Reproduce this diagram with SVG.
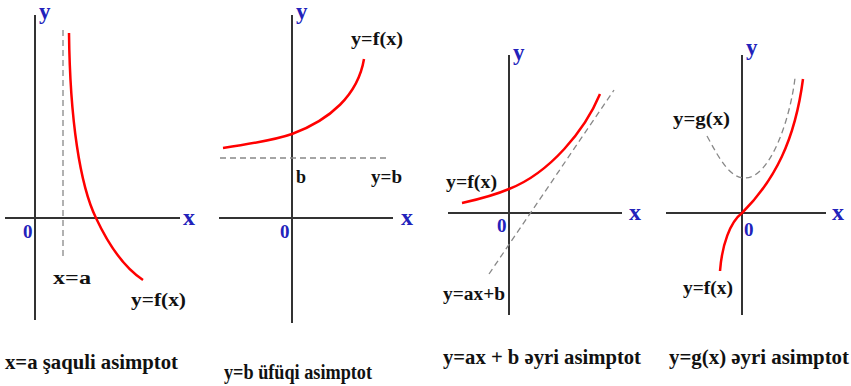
<svg xmlns="http://www.w3.org/2000/svg" width="851" height="386" viewBox="0 0 851 386">
<defs>
<style>
.ax{stroke:#333;stroke-width:2;fill:none}
.cv{stroke:#ff0000;stroke-width:2.5;fill:none}
.ds{stroke:#888;stroke-width:1.3;fill:none;stroke-dasharray:6,4}
</style>
</defs>
<rect width="851" height="386" fill="#fff"/>
<g id="panel1">
<line class="ax" x1="35" y1="15" x2="35" y2="320"/>
<line class="ax" x1="5" y1="218" x2="180" y2="218"/>
<line class="ds" x1="63" y1="30" x2="63" y2="258"/>
<path class="cv" d="M69,33 C70,120 80,185 96,218 C110,248 125,268 143,280"/>
<text x="183" y="225" font-family="Liberation Serif" font-weight="bold" font-size="24" fill="#2222bb">x</text>
<text x="39" y="19" font-family="Liberation Serif" font-weight="bold" font-size="23" fill="#2222bb">y</text>
<text x="23" y="238" font-family="Liberation Serif" font-weight="bold" font-size="19" fill="#2222bb">0</text>
<text x="53" y="284" font-family="Liberation Serif" font-weight="bold" font-size="18" fill="#111" textLength="38" lengthAdjust="spacingAndGlyphs">x=a</text>
<text x="131" y="306" font-family="Liberation Serif" font-weight="bold" font-size="18" fill="#111" textLength="55" lengthAdjust="spacingAndGlyphs">y=f(x)</text>
</g>
<g id="panel2">
<line class="ax" x1="292" y1="15" x2="292" y2="323"/>
<line class="ax" x1="219" y1="218" x2="393" y2="218"/>
<line class="ds" x1="220" y1="158" x2="388" y2="158"/>
<path class="cv" d="M223,148 C250,144 275,140 292,134 C330,120 358,95 364,59"/>
<text x="401" y="225" font-family="Liberation Serif" font-weight="bold" font-size="24" fill="#2222bb">x</text>
<text x="296" y="19" font-family="Liberation Serif" font-weight="bold" font-size="23" fill="#2222bb">y</text>
<text x="280" y="238" font-family="Liberation Serif" font-weight="bold" font-size="19" fill="#2222bb">0</text>
<text x="296" y="183" font-family="Liberation Serif" font-weight="bold" font-size="18" fill="#111">b</text>
<text x="371" y="183" font-family="Liberation Serif" font-weight="bold" font-size="18" fill="#111" textLength="31" lengthAdjust="spacingAndGlyphs">y=b</text>
<text x="351" y="45" font-family="Liberation Serif" font-weight="bold" font-size="18" fill="#111" textLength="52" lengthAdjust="spacingAndGlyphs">y=f(x)</text>
</g>
<g id="panel3">
<line class="ax" x1="509" y1="55" x2="509" y2="315"/>
<line class="ax" x1="448" y1="213" x2="622" y2="213"/>
<line class="ds" x1="489" y1="274" x2="614" y2="90"/>
<path class="cv" d="M462,203 C480,199 495,195 509,189 C550,173 585,130 600,94"/>
<text x="629" y="220" font-family="Liberation Serif" font-weight="bold" font-size="24" fill="#2222bb">x</text>
<text x="513" y="60" font-family="Liberation Serif" font-weight="bold" font-size="23" fill="#2222bb">y</text>
<text x="497" y="232" font-family="Liberation Serif" font-weight="bold" font-size="19" fill="#2222bb">0</text>
<text x="446" y="188" font-family="Liberation Serif" font-weight="bold" font-size="18" fill="#111" textLength="51" lengthAdjust="spacingAndGlyphs">y=f(x)</text>
<text x="443" y="300" font-family="Liberation Serif" font-weight="bold" font-size="18" fill="#111" textLength="62" lengthAdjust="spacingAndGlyphs">y=ax+b</text>
</g>
<g id="panel4">
<line class="ax" x1="742" y1="55" x2="742" y2="315"/>
<line class="ax" x1="666" y1="213" x2="826" y2="213"/>
<path class="ds" d="M707,136 C720,160 730,178 745,178 C770,178 790,120 795,78"/>
<path class="cv" d="M720,271 C722,245 730,222 742,213 C775,180 795,140 803,79"/>
<text x="832" y="220" font-family="Liberation Serif" font-weight="bold" font-size="24" fill="#2222bb">x</text>
<text x="746" y="55" font-family="Liberation Serif" font-weight="bold" font-size="23" fill="#2222bb">y</text>
<text x="744" y="236" font-family="Liberation Serif" font-weight="bold" font-size="19" fill="#2222bb">0</text>
<text x="673" y="125" font-family="Liberation Serif" font-weight="bold" font-size="18" fill="#111" textLength="57" lengthAdjust="spacingAndGlyphs">y=g(x)</text>
<text x="683" y="294" font-family="Liberation Serif" font-weight="bold" font-size="18" fill="#111" textLength="50" lengthAdjust="spacingAndGlyphs">y=f(x)</text>
</g>
<g id="captions">
<text x="5" y="369" font-family="Liberation Serif" font-weight="bold" font-size="20" fill="#111" textLength="173" lengthAdjust="spacingAndGlyphs">x=a şaquli asimptot</text>
<text x="224" y="379" font-family="Liberation Serif" font-weight="bold" font-size="20" fill="#111" textLength="148" lengthAdjust="spacingAndGlyphs">y=b üfüqi asimptot</text>
<text x="443" y="364" font-family="Liberation Serif" font-weight="bold" font-size="20" fill="#111" textLength="198" lengthAdjust="spacingAndGlyphs">y=ax + b əyri asimptot</text>
<text x="669" y="364" font-family="Liberation Serif" font-weight="bold" font-size="20" fill="#111" textLength="180" lengthAdjust="spacingAndGlyphs">y=g(x)  əyri asimptot</text>
</g>
</svg>
